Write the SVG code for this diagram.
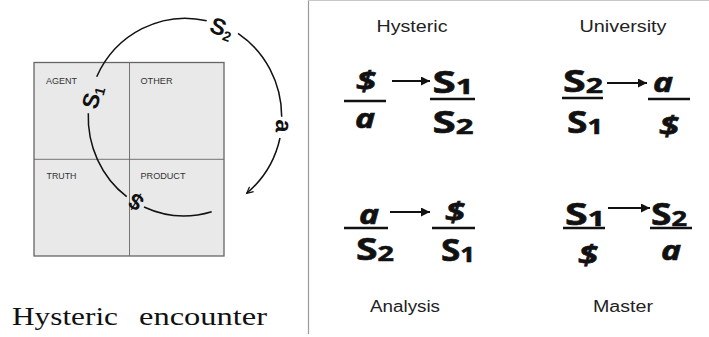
<svg xmlns="http://www.w3.org/2000/svg" width="709" height="337" viewBox="0 0 709 337">
<style>
.q{font-family:"Liberation Sans",Arial,sans-serif;font-size:9px;fill:#333}
.arc{fill:none;stroke:#111;stroke-width:1.5}
.al{font-family:"Liberation Sans",Arial,sans-serif;font-weight:bold;font-size:23px;fill:#111}
.lab{font-family:"Liberation Sans",Arial,sans-serif;font-size:16px;fill:#222;text-anchor:middle}
.f{font-family:"Noto Sans","Open Sans",sans-serif;font-weight:bold;font-size:30px;fill:#111;stroke:#111;stroke-width:0.6;text-anchor:middle}
.fi{font-style:italic;font-size:27px}
.bar{stroke:#111;stroke-width:2.6}
.arr{stroke:#111;stroke-width:2.2;marker-end:url(#fh)}
.sub{font-size:22px}
</style>
<defs>
<marker id="oh" viewBox="0 0 10 10" refX="9" refY="5" markerWidth="8" markerHeight="8" markerUnits="userSpaceOnUse" orient="auto">
<path d="M1,1 L9,5 L1,9" fill="none" stroke="#111" stroke-width="1.5"/>
</marker>
<marker id="fh" viewBox="0 0 10 10" refX="10" refY="5" markerWidth="10" markerHeight="9" markerUnits="userSpaceOnUse" orient="auto">
<path d="M0,0 L10,5 L0,10 Z" fill="#111"/>
</marker>
</defs>
<rect width="709" height="337" fill="#fff"/>

<g id="panel-border">
<line x1="308.5" y1="0" x2="308.5" y2="334" stroke="#9a9a9a" stroke-width="1.2"/>
<line x1="308" y1="0.5" x2="709" y2="0.5" stroke="#c8c8c8" stroke-width="1"/>
</g>

<g id="quadrant-box">
<rect x="34" y="62.5" width="190" height="193.5" fill="#e9e9e9" stroke="#666" stroke-width="1.3"/>
<line x1="129.5" y1="62.5" x2="129.5" y2="256" stroke="#666" stroke-width="0.9"/>
<line x1="34" y1="159.3" x2="224" y2="159.3" stroke="#666" stroke-width="0.9"/>
</g>
<g id="q-agent"><text class="q" x="46" y="84" textLength="31" lengthAdjust="spacingAndGlyphs">AGENT</text></g>
<g id="q-other"><text class="q" x="140.5" y="84" textLength="32" lengthAdjust="spacingAndGlyphs">OTHER</text></g>
<g id="q-truth"><text class="q" x="46.5" y="179" textLength="30" lengthAdjust="spacingAndGlyphs">TRUTH</text></g>
<g id="q-product"><text class="q" x="140.5" y="179" textLength="45" lengthAdjust="spacingAndGlyphs">PRODUCT</text></g>

<g id="connectors">
<path class="arc" d="M96.7,76.7 A97.5,100 0 0 1 206.7,20.7"/>
<path class="arc" d="M238,33.3 A97.5,100 0 0 1 281.7,116.7"/>
<path class="arc" d="M280,138 A97.5,100 0 0 1 246.7,193.3" marker-end="url(#oh)"/>
<path class="arc" d="M88.3,113.3 A97.5,100 0 0 0 126.7,196.7"/>
<path class="arc" d="M144,207 A97.5,100 0 0 0 211.7,211.7"/>
</g>

<g id="arc-S2"><text class="al" transform="translate(222,28) rotate(21)" text-anchor="middle" dy="8">S<tspan font-size="14" dy="3">2</tspan></text></g>
<g id="arc-a"><text class="al" transform="translate(283,126) rotate(93)" text-anchor="middle" dy="7">a</text></g>
<g id="arc-S1"><text class="al" transform="translate(92,97) rotate(-75)" text-anchor="middle" dy="8">S<tspan font-size="14" dy="3">1</tspan></text></g>
<g id="arc-barS"><text class="al" transform="translate(136,202) rotate(211)" text-anchor="middle" dy="8">$</text></g>

<g id="caption">
<text x="12" y="325" font-family="'Liberation Serif','Times New Roman',serif" font-size="26" fill="#111" textLength="106" lengthAdjust="spacingAndGlyphs">Hysteric</text>
<text x="139" y="325" font-family="'Liberation Serif','Times New Roman',serif" font-size="26" fill="#111" textLength="128" lengthAdjust="spacingAndGlyphs">encounter</text>
</g>

<g id="hysteric">
<text class="lab" x="412" y="32" textLength="71" lengthAdjust="spacingAndGlyphs">Hysteric</text>
<text class="f fi" x="366" y="91" textLength="20" lengthAdjust="spacingAndGlyphs">$</text>
<line class="bar" x1="344" y1="101" x2="386" y2="101"/>
<text class="f fi" x="365" y="128" textLength="20" lengthAdjust="spacingAndGlyphs">a</text>
<line class="arr" x1="392" y1="81" x2="430" y2="81"/>
<text class="f" x="453" y="93" textLength="41" lengthAdjust="spacingAndGlyphs">S<tspan class="sub" dy="1">1</tspan></text>
<line class="bar" x1="430" y1="99" x2="475" y2="99"/>
<text class="f" x="453" y="133" textLength="41" lengthAdjust="spacingAndGlyphs">S<tspan class="sub" dy="1">2</tspan></text>
</g>

<g id="university">
<text class="lab" x="623" y="32" textLength="87" lengthAdjust="spacingAndGlyphs">University</text>
<text class="f" x="583" y="92" textLength="40" lengthAdjust="spacingAndGlyphs">S<tspan class="sub" dy="1">2</tspan></text>
<line class="bar" x1="562" y1="98" x2="603" y2="98"/>
<text class="f" x="585" y="133" textLength="36" lengthAdjust="spacingAndGlyphs">S<tspan class="sub" dy="1">1</tspan></text>
<line class="arr" x1="607" y1="83" x2="647" y2="83"/>
<text class="f fi" x="663" y="92" textLength="20" lengthAdjust="spacingAndGlyphs">a</text>
<line class="bar" x1="648" y1="99" x2="690" y2="99"/>
<text class="f fi" x="669" y="136" textLength="20" lengthAdjust="spacingAndGlyphs">$</text>
</g>

<g id="analysis">
<text class="lab" x="405" y="312" textLength="70" lengthAdjust="spacingAndGlyphs">Analysis</text>
<text class="f fi" x="369" y="224" textLength="20" lengthAdjust="spacingAndGlyphs">a</text>
<line class="bar" x1="344" y1="228" x2="388" y2="228"/>
<text class="f" x="375" y="260" textLength="38" lengthAdjust="spacingAndGlyphs">S<tspan class="sub" dy="1">2</tspan></text>
<line class="arr" x1="390" y1="212" x2="430" y2="212"/>
<text class="f fi" x="455" y="222" textLength="20" lengthAdjust="spacingAndGlyphs">$</text>
<line class="bar" x1="432" y1="228" x2="475" y2="228"/>
<text class="f" x="458" y="261" textLength="34" lengthAdjust="spacingAndGlyphs">S<tspan class="sub" dy="1">1</tspan></text>
</g>

<g id="master">
<text class="lab" x="623" y="312" textLength="60" lengthAdjust="spacingAndGlyphs">Master</text>
<text class="f" x="585" y="225" textLength="40" lengthAdjust="spacingAndGlyphs">S<tspan class="sub" dy="1">1</tspan></text>
<line class="bar" x1="563" y1="228" x2="605" y2="228"/>
<text class="f fi" x="588" y="265" textLength="20" lengthAdjust="spacingAndGlyphs">$</text>
<line class="arr" x1="608" y1="208" x2="650" y2="208"/>
<text class="f" x="669" y="225" textLength="36" lengthAdjust="spacingAndGlyphs">S<tspan class="sub" dy="1">2</tspan></text>
<line class="bar" x1="650" y1="228" x2="692" y2="228"/>
<text class="f fi" x="671" y="260" textLength="20" lengthAdjust="spacingAndGlyphs">a</text>
</g>
</svg>
